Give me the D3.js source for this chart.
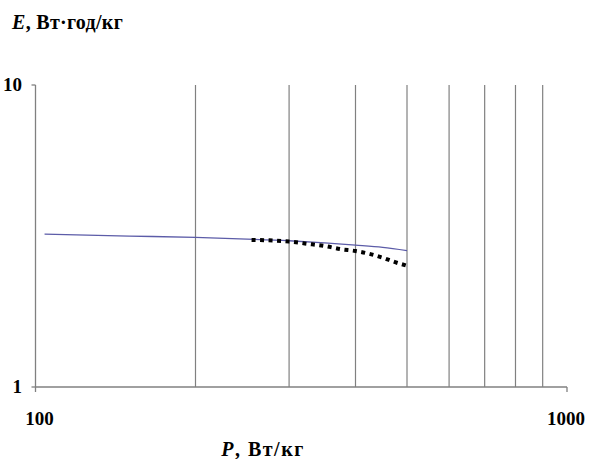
<!DOCTYPE html>
<html>
<head>
<meta charset="utf-8">
<script src="https://cdn.jsdelivr.net/npm/d3@7"></script>
<style>
  html, body { margin: 0; padding: 0; background: #fff; }
  svg { display: block; }
  text { font-family: "Liberation Serif", "Times New Roman", serif; font-weight: bold; fill: #000; }
</style>
</head>
<body>
<script>
// Data
const xTickLabels = ["100", "1000"];
const yTickLabels = ["1", "10"];
const gridValues = [200, 300, 400, 500, 600, 700, 800, 900];

const lineP = [104, 150, 200, 250, 300, 350, 400, 450, 500];
const lineE = [3.21, 3.16, 3.13, 3.09, 3.05, 3.00, 2.95, 2.90, 2.83];

const dotP = [255, 275, 300, 325, 350, 375, 400, 425, 450, 475, 500];
const dotE = [3.07, 3.06, 3.03, 2.98, 2.93, 2.86, 2.82, 2.76, 2.68, 2.59, 2.52];

const W = 592, H = 459;
const svg = d3.select("body").append("svg").attr("width", W).attr("height", H);

const x = d3.scaleLog().domain([100, 1000]).range([35.5, 567]);
const y = d3.scaleLog().domain([1, 10]).range([387, 85]);

const axisColor = "#808080";

// vertical gridlines
svg.append("g").selectAll("line").data(gridValues).join("line")
  .attr("x1", d => x(d)).attr("x2", d => x(d))
  .attr("y1", y(10)).attr("y2", y(1))
  .attr("stroke", axisColor).attr("stroke-width", 1.2);

// y axis line
svg.append("line")
  .attr("x1", x(100)).attr("x2", x(100)).attr("y1", y(10)).attr("y2", y(1))
  .attr("stroke", axisColor).attr("stroke-width", 1.3);
// y ticks
svg.append("g").selectAll("line").data([1, 10]).join("line")
  .attr("x1", x(100) - 4).attr("x2", x(100))
  .attr("y1", d => y(d)).attr("y2", d => y(d))
  .attr("stroke", axisColor).attr("stroke-width", 1.3);

// x axis line
svg.append("line")
  .attr("x1", x(100)).attr("x2", x(1000)).attr("y1", y(1)).attr("y2", y(1))
  .attr("stroke", axisColor).attr("stroke-width", 1.3);
svg.append("g").selectAll("line").data([100, 1000]).join("line")
  .attr("x1", d => x(d)).attr("x2", d => x(d))
  .attr("y1", y(1)).attr("y2", y(1) + 5)
  .attr("stroke", axisColor).attr("stroke-width", 1.3);

// tick labels
svg.append("g").selectAll("text").data(yTickLabels).join("text")
  .attr("x", 22).attr("y", d => y(+d) + 6)
  .attr("text-anchor", "end").attr("font-size", 19).text(d => d);
svg.append("g").selectAll("text").data(xTickLabels).join("text")
  .attr("x", d => x(+d) + (d === "100" ? 4 : -1)).attr("y", 425)
  .attr("text-anchor", "middle").attr("font-size", 19).text(d => d);

// axis titles
const yt = svg.append("text").attr("x", 12).attr("y", 29).attr("font-size", 20)
  .attr("letter-spacing", 0.3);
yt.append("tspan").attr("font-style", "italic").text("E");
yt.append("tspan").text(", Вт·год/кг");
const xt = svg.append("text").attr("x", 263).attr("y", 456).attr("text-anchor", "middle")
  .attr("font-size", 20).attr("letter-spacing", 1.5);
xt.append("tspan").attr("font-style", "italic").text("P");
xt.append("tspan").text(", Вт/кг");

// blue line
const line = d3.line().x(d => x(d[0])).y(d => y(d[1])).curve(d3.curveMonotoneX);
svg.append("path")
  .datum(lineP.map((p, i) => [p, lineE[i]]))
  .attr("d", line).attr("fill", "none")
  .attr("stroke", "#5c5ca8").attr("stroke-width", 1.3);

// dotted black line
svg.append("path")
  .datum(dotP.map((p, i) => [p, dotE[i]]))
  .attr("d", line).attr("fill", "none")
  .attr("stroke", "#000").attr("stroke-width", 4)
  .attr("stroke-dasharray", "4,4.5");
</script>
</body>
</html>
